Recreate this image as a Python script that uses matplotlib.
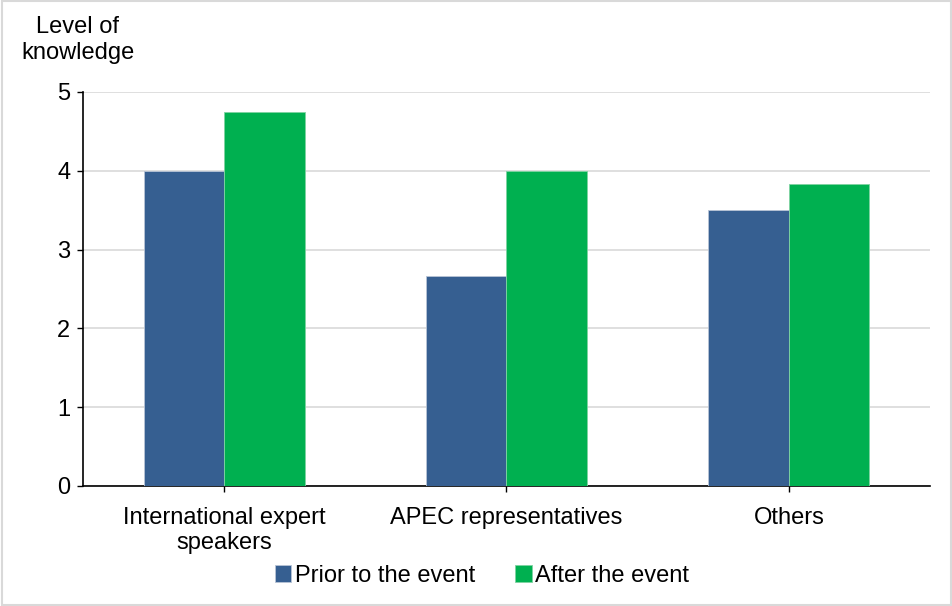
import numpy as np
import matplotlib
matplotlib.use("Agg")
import matplotlib.pyplot as plt
from matplotlib.patches import Rectangle

plt.rcParams['font.family'] = ['Liberation Sans', 'DejaVu Sans']

categories = ["International expert\nspeakers", "APEC representatives", "Others"]
prior = [4.0, 2.67, 3.5]
after = [4.75, 4.0, 3.83]
series_names = ["Prior to the event", "After the event"]

blue = "#365F91"
green = "#00B050"
fs = 17

fig = plt.figure(figsize=(9.53, 6.06), dpi=100)
ax = fig.add_axes([83 / 953, 120 / 606, 847 / 953, 394 / 606])

x = np.arange(len(categories))
w = 0.285
ax.bar(x - w / 2, prior, w, color=blue, edgecolor="#B8C4D6", linewidth=0.6,
       label=series_names[0], zorder=3)
ax.bar(x + w / 2, after, w, color=green, edgecolor="#7FD3A2", linewidth=0.6,
       label=series_names[1], zorder=3)

ax.set_xlim(-0.5, len(categories) - 0.5)
ax.set_ylim(0, 5)
ax.set_yticks(range(6))
ax.set_xticks(x)
ax.set_xticklabels(categories, fontsize=fs, linespacing=1.2)
ax.tick_params(axis='y', labelsize=fs, length=4, width=1, direction='out', pad=5)
ax.tick_params(axis='x', length=4, width=1, direction='out', pad=11)
ax.grid(axis='y', color="#D9D9D9", linewidth=1.2, zorder=0)
for s in ["top", "right"]:
    ax.spines[s].set_visible(False)
ax.spines["left"].set_linewidth(1.2)
ax.spines["bottom"].set_linewidth(1.2)

fig.text(78 / 953, 1 - 40 / 606, "Level of\nknowledge", ha="center", va="center",
         fontsize=fs, linespacing=1.2)

fig.legend(loc="center", bbox_to_anchor=(482 / 953, 1 - 576 / 606), ncol=2,
           frameon=False, fontsize=fs, handlelength=0.7, handleheight=0.7,
           handletextpad=0.15, columnspacing=1.7)

# light frame around the whole figure
fig.patches.append(Rectangle((0.002, 0.002), 0.996, 0.996, transform=fig.transFigure,
                             fill=False, edgecolor="#D9D9D9", linewidth=1.5))

fig.savefig("out.png", dpi=100)
